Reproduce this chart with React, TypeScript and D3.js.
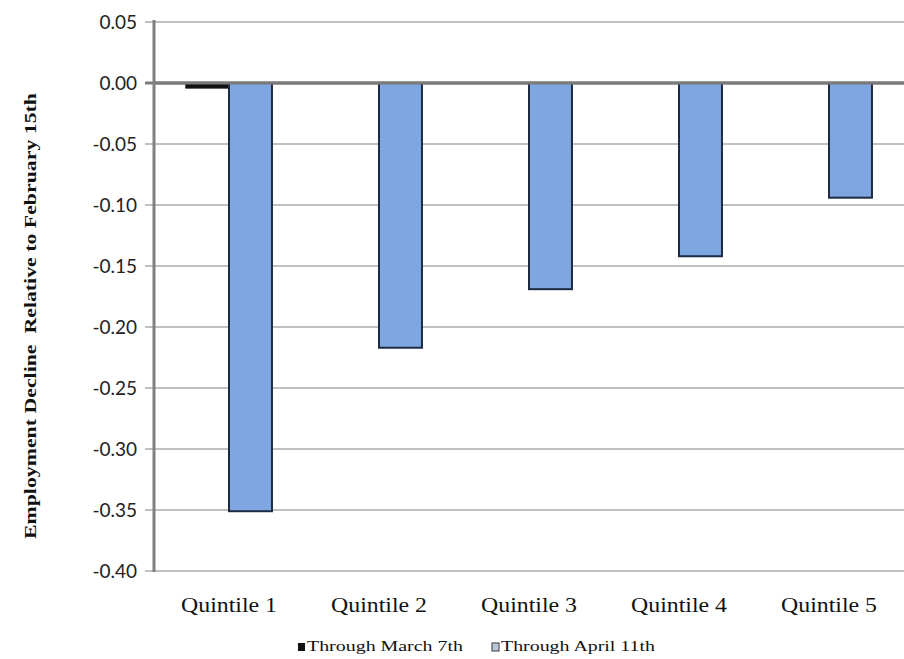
import React from "react";
import * as d3 from "d3";

const categories = ["Quintile 1", "Quintile 2", "Quintile 3", "Quintile 4", "Quintile 5"];
const seriesNames = ["Through March 7th", "Through April 11th"];
const marchValues = [-0.004, 0, 0, 0, 0];
const aprilValues = [-0.351, -0.217, -0.169, -0.142, -0.094];
const yTicks = [0.05, 0, -0.05, -0.1, -0.15, -0.2, -0.25, -0.3, -0.35, -0.4];

const W = 904;
const H = 659;
const left = 154;
const right = 904;
const top = 22;
const bottom = 571;

const seriesValues = [marchValues, aprilValues];
const seriesFill = ["#111111", "#7ea6e0"];
const seriesStroke = ["#111111", "#1c2a44"];

const serif = "'Liberation Serif', 'Times New Roman', serif";
const fmt = (v: number) => d3.format(".2f")(v).replace("\u2212", "-");

export default function App() {
  const y = d3.scaleLinear().domain([-0.4, 0.05]).range([bottom, top]);
  const x0 = d3
    .scaleBand<string>()
    .domain(categories)
    .range([left, right])
    .paddingInner(0.427)
    .paddingOuter(0.2135);
  const x1 = d3
    .scaleBand<string>()
    .domain(seriesNames)
    .range([0, x0.bandwidth()]);

  return (
    <svg
      width={W}
      height={H}
      style={{ position: "absolute", left: 0, top: 0, background: "#fff" }}
    >
      {/* horizontal gridlines */}
      {yTicks.map((t) => (
        <line
          key={"g" + t}
          x1={left - 9}
          x2={right}
          y1={y(t)}
          y2={y(t)}
          stroke={t === 0 ? "#7a7a7a" : "#ababab"}
          strokeWidth={t === 0 ? 3 : 1.5}
        />
      ))}
      {/* tick labels */}
      {yTicks.map((t) => (
        <text
          key={"t" + t}
          x={137}
          y={y(t)}
          dy="0.36em"
          textAnchor="end"
          fontFamily="Lato, 'Open Sans', sans-serif"
          fontSize={19}
          fill="#222"
        >
          {fmt(t)}
        </text>
      ))}
      {/* bars */}
      {categories.map((c, i) => (
        <g key={c} transform={`translate(${x0(c)},0)`}>
          {seriesNames.map((s, k) => {
            const v = seriesValues[k][i];
            if (v === 0) return null;
            const y0 = y(0);
            const y1 = y(v);
            return (
              <rect
                key={s}
                x={x1(s)}
                y={Math.min(y0, y1)}
                width={x1.bandwidth()}
                height={Math.max(Math.abs(y1 - y0), 1)}
                fill={seriesFill[k]}
                stroke={seriesStroke[k]}
                strokeWidth={k === 1 ? 2 : 1.5}
              />
            );
          })}
        </g>
      ))}
      {/* zero line redrawn over bar tops */}
      <line x1={left} x2={right} y1={y(0)} y2={y(0)} stroke="#7a7a7a" strokeWidth={3} />
      {/* y axis line */}
      <line x1={left} x2={left} y1={top - 2} y2={bottom + 1} stroke="#808080" strokeWidth={3} />
      {/* category labels */}
      {categories.map((c) => (
        <text
          key={"c" + c}
          x={(x0(c) ?? 0) + x0.bandwidth() / 2}
          y={612}
          textAnchor="middle"
          fontFamily={serif}
          fontSize={20}
          textLength={96}
          lengthAdjust="spacingAndGlyphs"
          fill="#111"
        >
          {c}
        </text>
      ))}
      {/* y axis title */}
      <text
        transform={`translate(36,316) rotate(-90)`}
        textAnchor="middle"
        fontFamily={serif}
        fontWeight="bold"
        fontSize={17}
        textLength={446}
        lengthAdjust="spacingAndGlyphs"
        fill="#111"
      >
        {"Employment Decline\u00A0\u00A0Relative to February 15th"}
      </text>
      {/* legend */}
      <g fontFamily={serif} fontSize={14} fill="#111">
        <rect x={298} y={643} width={7} height={8} fill={seriesFill[0]} />
        <text x={307} y={651} textLength={156} lengthAdjust="spacingAndGlyphs">
          {seriesNames[0]}
        </text>
        <rect x={492} y={643} width={7} height={8} fill="#b9c6da" stroke="#555" strokeWidth={1.2} />
        <text x={501} y={651} textLength={154} lengthAdjust="spacingAndGlyphs">
          {seriesNames[1]}
        </text>
      </g>
    </svg>
  );
}
